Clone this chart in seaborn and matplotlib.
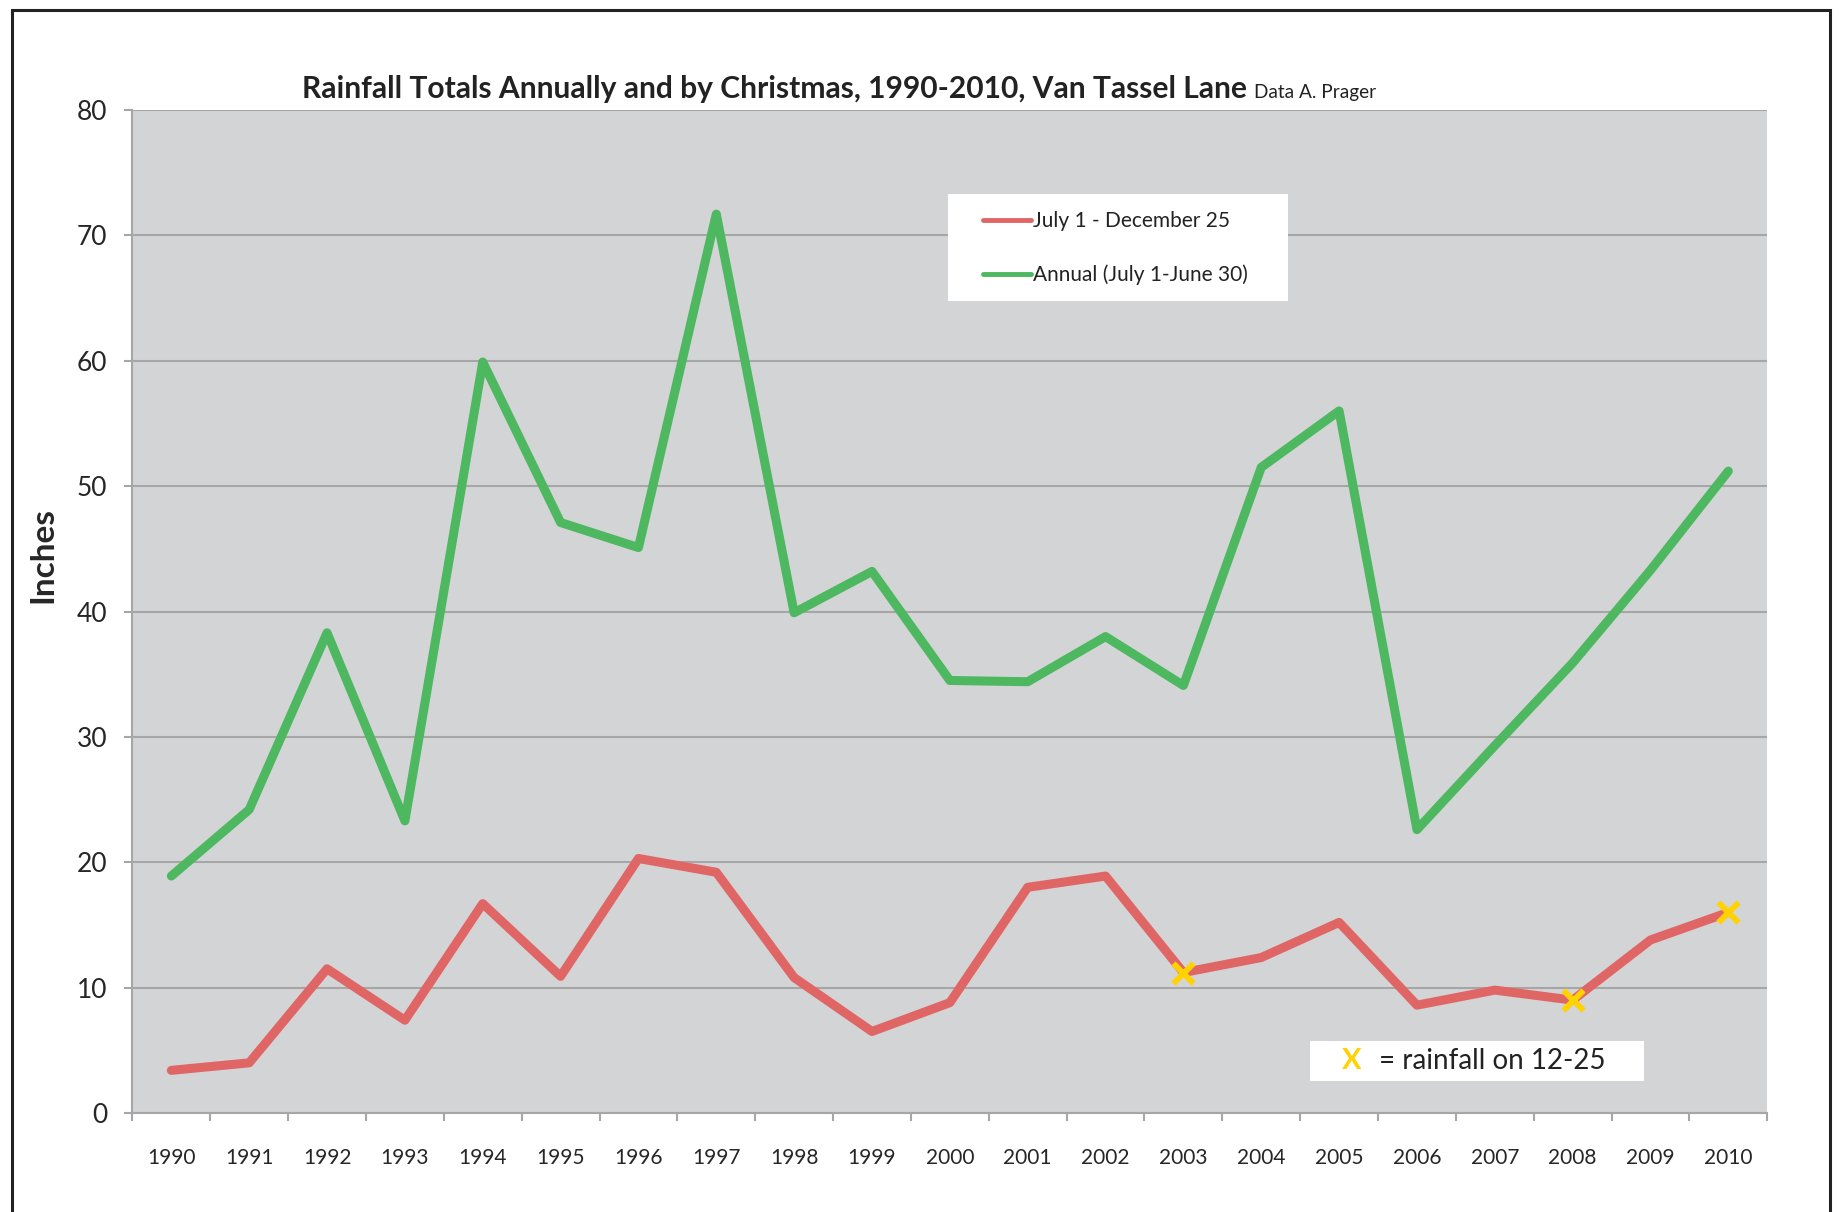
import numpy as np
import pandas as pd
import seaborn as sns
from matplotlib import pyplot as plt
from matplotlib.patches import Rectangle

# Data
years = list(range(1990, 2011))
annual = [18.9, 24.2, 38.3, 23.3, 59.9, 47.1, 45.1, 71.7, 39.9, 43.2, 34.5,
          34.4, 38.0, 34.1, 51.5, 56.0, 22.6, 29.3, 35.9, 43.3, 51.2]
to_christmas = [3.4, 4.0, 11.5, 7.4, 16.7, 10.9, 20.3, 19.2, 10.8, 6.5, 8.8,
                18.0, 18.9, 11.2, 12.4, 15.2, 8.6, 9.8, 9.0, 13.8, 16.0]
rain_on_xmas = [2003, 2008, 2010]

red = '#E06666'
green = '#4DB85F'
yellow = '#FFD200'
grid_gray = '#A6A6A6'

sns.set_style('white', {'axes.facecolor': '#D3D4D6'})
plt.rcParams['font.family'] = ['Lato', 'DejaVu Sans']
plt.rcParams['text.color'] = '#222222'

df = pd.DataFrame({'idx': np.arange(len(years)), 'year': years,
                   'annual': annual, 'xmas': to_christmas})
marks = df[df.year.isin(rain_on_xmas)]

fig = plt.figure(figsize=(18.39, 12.12), dpi=100)
ax = fig.add_axes([0.072, 0.0817, 0.889, 0.8275])

sns.lineplot(data=df, x='idx', y='xmas', color=red, linewidth=6.5,
             label='July 1 - December 25', ax=ax)
sns.lineplot(data=df, x='idx', y='annual', color=green, linewidth=6.5,
             label='Annual (July 1-June 30)', ax=ax)
sns.scatterplot(data=marks, x='idx', y='xmas', marker='x', s=210,
                linewidth=4.2, color=yellow, zorder=5, ax=ax, legend=False)

ax.set_xlim(-0.5, len(years) - 0.5)
ax.set_ylim(0, 80)
ax.set_yticks(range(0, 81, 10))
ax.yaxis.grid(True, color=grid_gray, linewidth=1.5)
ax.set_axisbelow(True)

# tick marks between years, labels centred on years
ax.set_xticks(np.arange(-0.5, len(years), 1))
ax.set_xticklabels([])
ax.set_xticks(range(len(years)), minor=True)
ax.set_xticklabels(years, minor=True, fontsize=15)
ax.tick_params(axis='x', which='major', length=6, width=1.5, color=grid_gray,
               direction='out', bottom=True)
ax.tick_params(axis='x', which='minor', length=0, pad=25)
ax.tick_params(axis='y', length=6, width=1.5, color=grid_gray, direction='out',
               left=True, labelsize=19, pad=12)

for side in ['top', 'right']:
    ax.spines[side].set_visible(False)
for side in ['left', 'bottom']:
    ax.spines[side].set_color(grid_gray)
    ax.spines[side].set_linewidth(1.5)

ax.set_xlabel('')
ax.set_ylabel('Inches', fontsize=24, fontweight='bold')
ax.yaxis.set_label_coords(-0.046, 0.556)

# legend on a white panel
ax.add_patch(Rectangle((0.4991, 0.8092), 0.2076, 0.1075, transform=ax.transAxes,
                       facecolor='white', edgecolor='none', zorder=3))
leg = ax.legend(loc='upper left', bbox_to_anchor=(0.5201, 0.899),
                borderaxespad=0, borderpad=0, frameon=False, fontsize=15,
                handlelength=2.3, handletextpad=0.1, labelspacing=1.6)
leg.set_zorder(4)
for line in leg.get_lines():
    line.set_linewidth(3.5)
for t in leg.get_texts():
    t.set_color('#222222')

# note box in lower right
ax.add_patch(Rectangle((0.7204, 0.0319), 0.2044, 0.0399, transform=ax.transAxes,
                       facecolor='white', edgecolor='none', zorder=3))
ax.text(0.746, 0.052, 'X', transform=ax.transAxes, fontsize=21,
        fontweight='bold', color=yellow, va='center', ha='center', zorder=4)
ax.text(0.7626, 0.052, '= rainfall on 12-25', transform=ax.transAxes,
        fontsize=20, va='center', ha='left', color='#222222', zorder=4)

# title with small credit after it
title = fig.text(0.164, 0.919, 'Rainfall Totals Annually and by Christmas, 1990-2010, Van Tassel Lane',
                 fontsize=21.6, fontweight='bold', va='baseline', ha='left')
fig.canvas.draw()
bb = title.get_window_extent().transformed(fig.transFigure.inverted())
fig.text(bb.x1 + 0.004, 0.919, 'Data A. Prager', fontsize=13.7,
         va='baseline', ha='left')

# outer frame
fig.patches.append(Rectangle((12 / 1839, -0.1), (1830 - 12) / 1839, 1.1 - 10 / 1212,
                             transform=fig.transFigure, fill=False,
                             edgecolor='#222222', linewidth=2.2))

fig.savefig('out.png', dpi=100, facecolor='white')
